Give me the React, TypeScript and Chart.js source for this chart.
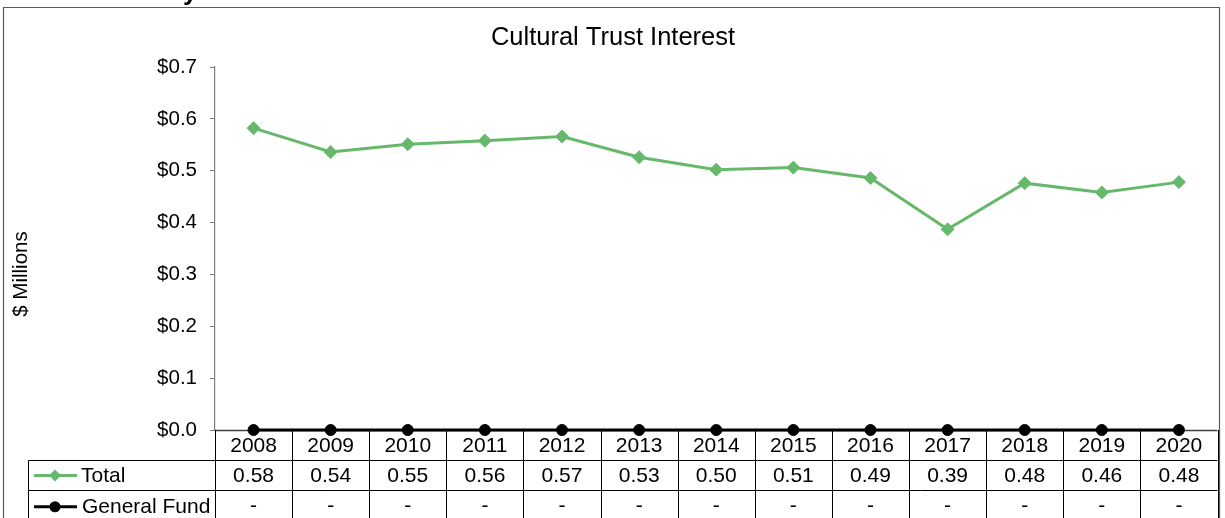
import React, { useEffect, useRef } from 'react';
import { Chart, registerables } from 'chart.js';

Chart.register(...registerables);

const categories = ['2008', '2009', '2010', '2011', '2012', '2013', '2014', '2015', '2016', '2017', '2018', '2019', '2020'];
const totalValues = [0.582, 0.536, 0.551, 0.558, 0.566, 0.526, 0.502, 0.506, 0.486, 0.387, 0.476, 0.458, 0.478];
const generalFundValues = [0, 0, 0, 0, 0, 0, 0, 0, 0, 0, 0, 0, 0];
const yMin = 0;
const yMax = 0.7;
const yStep = 0.1;
const titleText = 'Cultural Trust Interest';
const yAxisTitle = '$ Millions';
const seriesNames = ['Total', 'General Fund'];

const FONT = '"Liberation Sans", Arial, Helvetica, sans-serif';
const GREEN = '#66b96a';
const BLACK = '#000000';

const fmt = (v: number) => (v === 0 ? '-' : v.toFixed(2));

const decorPlugin = {
  id: 'excelDecor',
  beforeDatasetsDraw(chart: any) {
    const { ctx, chartArea } = chart;
    ctx.save();
    ctx.strokeStyle = '#404040';
    ctx.lineWidth = 1.5;
    ctx.beginPath();
    ctx.moveTo(chartArea.left, chartArea.bottom + 0.5);
    ctx.lineTo(chartArea.right, chartArea.bottom + 0.5);
    ctx.stroke();
    ctx.restore();
  },
  afterDraw(chart: any) {
    const { ctx, chartArea } = chart;
    const { left, right, bottom } = chartArea;
    const xs = chart.scales.x;
    const n = categories.length;
    const colW = (right - left) / n;
    const r0 = bottom;
    const r1 = bottom + 30.5;
    const r2 = bottom + 60.5;
    const r3 = bottom + 91;
    const tableLeft = 28.5;
    const H = chart.height;

    ctx.save();
    // outer border
    ctx.strokeStyle = '#5a5a5a';
    ctx.lineWidth = 1.2;
    ctx.beginPath();
    ctx.moveTo(3.5, H + 5);
    ctx.lineTo(3.5, 7.5);
    ctx.lineTo(1219.5, 7.5);
    ctx.lineTo(1219.5, H + 5);
    ctx.stroke();

    // cut-off page heading glyph
    ctx.fillStyle = '#000';
    ctx.font = `bold 26px ${FONT}`;
    ctx.textAlign = 'left';
    ctx.textBaseline = 'alphabetic';
    ctx.fillText('y', 183, 0);

    // title
    ctx.fillStyle = '#000';
    ctx.font = `25.5px ${FONT}`;
    ctx.textAlign = 'center';
    ctx.textBaseline = 'middle';
    ctx.fillText(titleText, 613, 38);

    // y axis title
    ctx.save();
    ctx.translate(21, 274);
    ctx.rotate(-Math.PI / 2);
    ctx.font = `20.5px ${FONT}`;
    ctx.fillText(yAxisTitle, 0, 0);
    ctx.restore();

    // table grid
    ctx.strokeStyle = '#000';
    ctx.lineWidth = 1;
    ctx.beginPath();
    ctx.moveTo(tableLeft, r1);
    ctx.lineTo(right, r1);
    ctx.moveTo(tableLeft, r2);
    ctx.lineTo(right, r2);
    ctx.moveTo(tableLeft, r1);
    ctx.lineTo(tableLeft, r3);
    for (let i = 0; i <= n; i++) {
      const gx = Math.round(left + i * colW) + 0.5;
      ctx.moveTo(gx, r0);
      ctx.lineTo(gx, r3);
    }
    ctx.stroke();

    // table text
    ctx.fillStyle = '#000';
    ctx.font = `21px ${FONT}`;
    ctx.textAlign = 'center';
    ctx.textBaseline = 'middle';
    categories.forEach((c, i) => {
      const cx = xs.getPixelForValue(i);
      ctx.fillText(c, cx, (r0 + r1) / 2 + 1);
      ctx.fillText(fmt(totalValues[i]), cx, (r1 + r2) / 2 + 1);
      ctx.fillText(fmt(generalFundValues[i]), cx, (r2 + r3) / 2);
    });

    // legend keys
    const keyY1 = (r1 + r2) / 2;
    const keyY2 = (r2 + r3) / 2 + 1;
    ctx.lineWidth = 2.8;
    ctx.strokeStyle = GREEN;
    ctx.beginPath();
    ctx.moveTo(34, keyY1);
    ctx.lineTo(77, keyY1);
    ctx.stroke();
    ctx.fillStyle = GREEN;
    ctx.beginPath();
    ctx.moveTo(55, keyY1 - 6);
    ctx.lineTo(61, keyY1);
    ctx.lineTo(55, keyY1 + 6);
    ctx.lineTo(49, keyY1);
    ctx.closePath();
    ctx.fill();

    ctx.strokeStyle = BLACK;
    ctx.beginPath();
    ctx.moveTo(34, keyY2);
    ctx.lineTo(77, keyY2);
    ctx.stroke();
    ctx.fillStyle = BLACK;
    ctx.beginPath();
    ctx.arc(55, keyY2, 5.5, 0, Math.PI * 2);
    ctx.fill();

    ctx.fillStyle = '#000';
    ctx.textAlign = 'left';
    ctx.fillText(seriesNames[0], 81, keyY1 + 1);
    ctx.fillText(seriesNames[1], 82, keyY2);
    ctx.restore();
  },
};

export default function App() {
  const ref = useRef<HTMLCanvasElement | null>(null);

  useEffect(() => {
    if (!ref.current) return;
    const chart = new Chart(ref.current, {
      type: 'line',
      data: {
        labels: categories,
        datasets: [
          {
            label: seriesNames[1],
            data: generalFundValues,
            borderColor: BLACK,
            backgroundColor: BLACK,
            borderWidth: 2.8,
            pointStyle: 'circle',
            pointRadius: 5.5,
            pointBorderWidth: 1,
            tension: 0,
            clip: false as any,
          },
          {
            label: seriesNames[0],
            data: totalValues,
            borderColor: GREEN,
            backgroundColor: GREEN,
            borderWidth: 3,
            pointStyle: 'rectRot',
            pointRadius: 6.5,
            pointBorderWidth: 1,
            tension: 0,
          },
        ],
      },
      options: {
        animation: false,
        responsive: true,
        maintainAspectRatio: false,
        layout: { padding: { left: 0, right: 5, top: 67, bottom: 88 } },
        plugins: {
          legend: { display: false },
          title: { display: false },
          tooltip: { enabled: false },
        },
        scales: {
          x: {
            type: 'category',
            display: false,
            offset: true,
          },
          y: {
            min: yMin,
            max: yMax,
            afterFit: (s: any) => {
              s.width = 215;
            },
            border: { display: true, color: '#7f7f7f', width: 1.2 },
            grid: {
              display: true,
              drawOnChartArea: false,
              drawTicks: true,
              tickLength: 5,
              color: '#7f7f7f',
            },
            ticks: {
              stepSize: yStep,
              padding: 13,
              color: '#000',
              font: { family: FONT, size: 20.5 },
              callback: (v: any) => '$' + Number(v).toFixed(1),
            },
          },
        },
      },
      plugins: [decorPlugin],
    });
    return () => chart.destroy();
  }, []);

  return (
    <div style={{ position: 'absolute', left: 0, top: 0, width: 1225, height: 518, background: '#fff' }}>
      <canvas ref={ref} />
    </div>
  );
}
